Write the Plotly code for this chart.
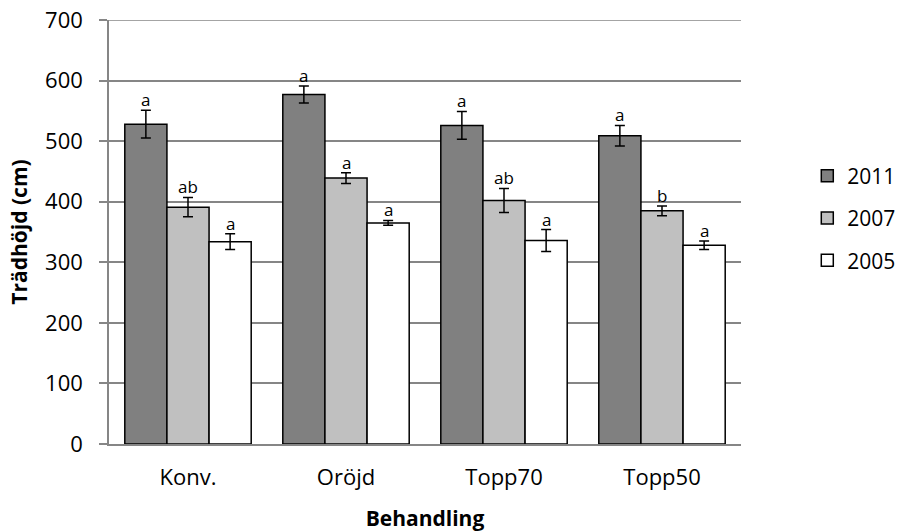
import plotly.graph_objects as go

categories = ["Konv.", "Oröjd", "Topp70", "Topp50"]
years = ["2011", "2007", "2005"]

height_2011 = [528, 577, 526, 509]
height_2007 = [391, 439, 402, 385]
height_2005 = [334, 365, 336, 328]

err_2011 = [23, 14, 23, 17]
err_2007 = [16, 9, 20, 8]
err_2005 = [13, 4, 18, 7]

letters_2011 = ["a", "a", "a", "a"]
letters_2007 = ["ab", "a", "ab", "b"]
letters_2005 = ["a", "a", "a", "a"]

colors = ["#808080", "#C0C0C0", "#FFFFFF"]
series = [
    (years[0], height_2011, err_2011, letters_2011),
    (years[1], height_2007, err_2007, letters_2007),
    (years[2], height_2005, err_2005, letters_2005),
]

font_family = "Open Sans, Liberation Sans, sans-serif"
grid_color = "#868686"

fig = go.Figure()
for i, (name, vals, errs, _) in enumerate(series):
    fig.add_trace(go.Bar(
        name=name,
        x=categories,
        y=vals,
        marker=dict(color=colors[i], line=dict(color="black", width=1.5)),
        error_y=dict(type="data", array=errs, visible=True,
                     color="black", thickness=1.5, width=5),
        legendgroup=name,
    ))

# significance letters above each error bar
n = len(series)
bargap = 0.2
bar_w = (1 - bargap) / n
annotations = []
for i, (name, vals, errs, lets) in enumerate(series):
    offset = (i - (n - 1) / 2) * bar_w
    for j, cat in enumerate(categories):
        annotations.append(dict(
            x=j + offset, y=vals[j] + errs[j], xref="x", yref="y",
            text=lets[j], showarrow=False, yanchor="bottom", yshift=-3,
            font=dict(size=17, color="black", family=font_family),
        ))

fig.update_layout(
    width=902, height=532,
    margin=dict(l=109, r=161, t=20, b=88, autoexpand=False),
    paper_bgcolor="white", plot_bgcolor="white",
    barmode="group", bargap=bargap, bargroupgap=0,
    font=dict(family=font_family, size=21, color="black"),
    showlegend=True,
    legend=dict(xref="container", yref="container",
                x=0.895, y=0.59, xanchor="left", yanchor="middle",
                font=dict(size=21), tracegroupgap=12,
                itemwidth=30),
    annotations=annotations,
    # top gridline at 700 (the range end)
    shapes=[dict(type="line", xref="paper", yref="y", x0=-0.013, x1=1,
                 y0=700, y1=700, line=dict(color=grid_color, width=1.5))],
    xaxis=dict(
        title=dict(text="<b>Behandling</b>", font=dict(size=21), standoff=22),
        showline=True, linecolor=grid_color, linewidth=1.5,
        ticks="", showgrid=False, tickfont=dict(size=22),
        ticklabelstandoff=13, automargin=False,
    ),
    yaxis=dict(
        title=dict(text="<b>Trädhöjd (cm)</b>", font=dict(size=21), standoff=12),
        range=[0, 700], dtick=100, tick0=0,
        showline=True, linecolor=grid_color, linewidth=1.5,
        showgrid=True, gridcolor=grid_color, gridwidth=1.5,
        ticks="outside", ticklen=8, tickcolor=grid_color, tickwidth=1.5,
        tickfont=dict(size=22), zeroline=False,
        ticklabelstandoff=12, automargin=False,
    ),
)

fig.write_html("out.html")
